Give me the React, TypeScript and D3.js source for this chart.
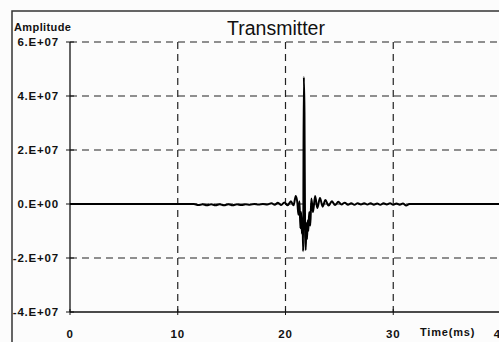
import React from "react";
import * as d3 from "d3";

const timeMs = [
  0, 11.5, 11.9, 12.3, 12.7, 13.1, 13.5, 13.9, 14.3, 14.7, 15.1, 15.5, 15.9, 16.3, 16.7, 17.1,
  17.5, 17.9, 18.3, 18.7, 19.0, 19.3, 19.6, 19.9, 20.2, 20.5, 20.75, 20.95, 21.1, 21.2, 21.3,
  21.38, 21.45, 21.52, 21.58, 21.64, 21.7, 21.76, 21.82, 21.88, 21.94, 22.0, 22.06, 22.12, 22.2,
  22.3, 22.4, 22.55, 22.75, 22.95, 23.2, 23.45, 23.7, 24.0, 24.3, 24.6, 24.9, 25.2, 25.5, 25.8,
  26.1, 26.4, 26.7, 27.0, 27.3, 27.6, 27.9, 28.2, 28.5, 28.8, 29.1, 29.4, 29.7, 30.0, 30.3,
  30.6, 30.9, 31.2, 31.5, 40,
];
// amplitude in units of 1E7
const amplitude = [
  0, 0, -0.04, -0.01, -0.05, -0.01, -0.05, -0.01, -0.05, -0.01, -0.05, -0.01, -0.04, -0.01, -0.03, 0,
  -0.02, 0, -0.02, 0.03, -0.03, 0.05, -0.04, 0.06, -0.05, 0.1, -0.05, 0.3, 0.05, -0.4, 0.1,
  -0.9, -0.3, -1.1, -0.6, -1.75, 4.7, 3.4, -1.2, -1.7, -0.7, -1.3, -0.6, -1.0, -0.3,
  -0.8, 0.2, -0.3, 0.3, -0.15, 0.22, -0.1, 0.15, -0.06, 0.1, -0.04, 0.08, -0.02, 0.05, -0.03,
  0.03, -0.03, 0.03, -0.02, 0.03, -0.02, 0.03, -0.03, 0.02, -0.03, 0.03, -0.02, 0.03, -0.03, 0.02,
  -0.03, 0.02, -0.06, 0, 0,
];
const yTicks = [-4e7, -2e7, 0, 2e7, 4e7, 6e7];
const yTickLabels = ["-4.E+07", "-2.E+07", "0.E+00", "2.E+07", "4.E+07", "6.E+07"];
const xTicks = [0, 10, 20, 30, 40];

export default function App() {
  const W = 499, H = 342;
  const x = d3.scaleLinear().domain([0, 40]).range([70, 501]);
  const y = d3.scaleLinear().domain([-4e7, 6e7]).range([312, 42]);
  const line = d3
    .line<number>()
    .x((_, i) => x(timeMs[i]))
    .y((d) => y(d * 1e7))
    .curve(d3.curveMonotoneX);
  const font = "'Liberation Sans', Arial, sans-serif";
  return (
    <svg width={W} height={H} style={{ position: "absolute", left: 0, top: 0, background: "#fcfcfc" }}>
      <rect x={0} y={0} width={W} height={H} fill="#fcfcfc" />
      <rect x={12} y={11} width={600} height={400} fill="none" stroke="#333" strokeWidth={1.5} />
      {yTicks.filter((t) => t > -4e7).map((t) => (
        <line key={"gy" + t} x1={x(0)} x2={W} y1={y(t)} y2={y(t)} stroke="#222" strokeWidth={1.2} strokeDasharray="7,5" />
      ))}
      {xTicks.filter((t) => t > 0).map((t) => (
        <line key={"gx" + t} x1={x(t)} x2={x(t)} y1={y(6e7)} y2={y(-4e7)} stroke="#222" strokeWidth={1.2} strokeDasharray="7,5" />
      ))}
      <line x1={x(0)} x2={x(0)} y1={y(6e7)} y2={y(-4e7)} stroke="#111" strokeWidth={1.3} />
      <line x1={x(0)} x2={W} y1={y(-4e7)} y2={y(-4e7)} stroke="#111" strokeWidth={1.3} />
      {yTicks.map((t, i) => (
        <g key={"yt" + t}>
          <line x1={x(0) - 4} x2={x(0) + 4} y1={y(t)} y2={y(t)} stroke="#111" strokeWidth={1} />
          <text x={59} y={y(t) + 4} textAnchor="end" fontFamily={font} fontWeight="bold" fontSize={11.5} fill="#111" letterSpacing={0.8}>
            {yTickLabels[i]}
          </text>
        </g>
      ))}
      {xTicks.map((t) => (
        <g key={"xt" + t}>
          <line x1={x(t)} x2={x(t)} y1={y(-4e7) - 3} y2={y(-4e7) + 3} stroke="#111" strokeWidth={1} />
          <text x={x(t)} y={338} textAnchor="middle" fontFamily={font} fontWeight="bold" fontSize={11.5} fill="#111" letterSpacing={0.8}>
            {t}
          </text>
        </g>
      ))}
      <text x={420} y={336} fontFamily={font} fontWeight="bold" fontSize={11} fill="#111" letterSpacing={0.8}>Time(ms)</text>
      <text x={14} y={31} fontFamily={font} fontWeight="bold" fontSize={11} fill="#111" letterSpacing={0.4}>Amplitude</text>
      <text x={276} y={35} textAnchor="middle" fontFamily={font} fontSize={19.5} fill="#111">Transmitter</text>
      <path d={line(amplitude) || ""} fill="none" stroke="#000" strokeWidth={2} strokeLinejoin="round" />
    </svg>
  );
}
